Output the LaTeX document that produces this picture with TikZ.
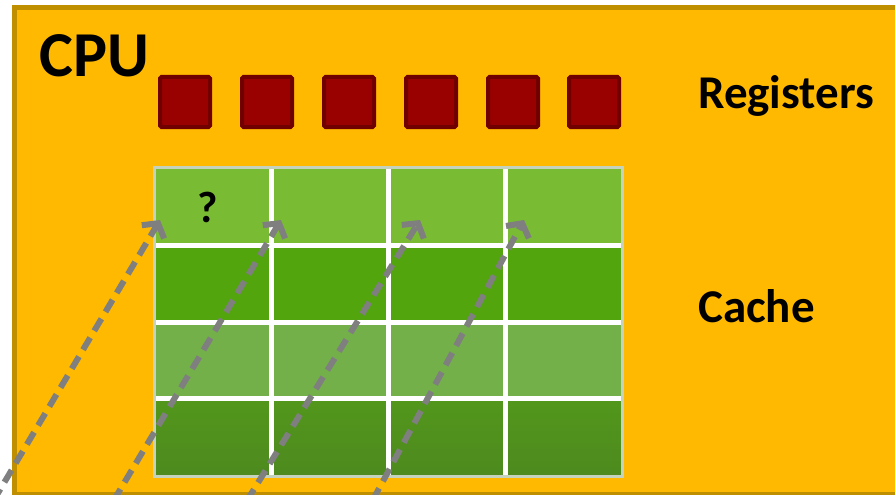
\documentclass[tikz,border=0pt]{standalone}
\usepackage{fontspec}
\setmainfont{Carlito}
\usetikzlibrary{arrows.meta}
\definecolor{cpufill}{HTML}{FFB900}
\definecolor{cpuborder}{HTML}{BF8F00}
\definecolor{regfill}{HTML}{990000}
\definecolor{regborder}{HTML}{700000}
\definecolor{rowA}{HTML}{7ABB34}
\definecolor{rowB}{HTML}{52A50C}
\definecolor{rowC}{HTML}{74B04A}
\definecolor{rowDtop}{HTML}{52971B}
\definecolor{rowDbot}{HTML}{4E8A1F}
\definecolor{gridborder}{HTML}{C5D2BE}
\definecolor{arrowgray}{HTML}{7F7F7F}
\tikzset{
  regbox/.style={draw=regborder, fill=regfill, line width=4pt, rounded corners=1.5pt,
    minimum width=50pt, minimum height=50pt, inner sep=0pt},
  label/.style={inner sep=0pt, font=\bfseries},
  fetch/.style={draw=arrowgray, line width=6pt, dash pattern=on 14pt off 8pt,
    -{Straight Barb[length=10pt,width=26pt]}}
}
\begin{document}
\begin{tikzpicture}[x=1pt,y=-1pt]
\useasboundingbox (0,0) rectangle (895,495);
\clip (0,0) rectangle (895,495);
% CPU box
\draw[draw=cpuborder, fill=cpufill, line width=5pt] (14,8) rectangle (920,494);
\node[label, anchor=base west, font=\fontsize{64}{64}\selectfont\bfseries] (cpu) at (39,77) {CPU};
% registers
\foreach \i/\x in {1/185,2/267,3/349,4/431,5/513,6/594}{
  \node[regbox] (r\i) at (\x,102) {};
}
\node[label, anchor=base west, font=\fontsize{47}{47}\selectfont\bfseries] (regs) at (698,108) {Registers};
% cache grid
\fill[rowA] (154,167) rectangle (622,245);
\fill[rowB] (154,245) rectangle (622,322);
\fill[rowC] (154,322) rectangle (622,398);
\shade[top color=rowDtop, bottom color=rowDbot] (154,398) rectangle (622,476);
\foreach \x in {271,388,505}{
  \draw[white, line width=5pt] (\x,167) -- (\x,476);
}
\foreach \y in {245,322,398}{
  \draw[white, line width=5pt] (154,\y) -- (622,\y);
}
\draw[gridborder, line width=3pt] (154,167) rectangle (622,476);
\node[label, anchor=base, font=\fontsize{44}{44}\selectfont\bfseries] (q) at (208,222) {?};
\node[label, anchor=base west, font=\fontsize{47}{47}\selectfont\bfseries] (cache) at (698,322) {Cache};
% arrows
\coordinate (s1) at (-18,520); \coordinate (t1) at (160,220);
\coordinate (s2) at (102,520); \coordinate (t2) at (281,220);
\coordinate (s3) at (235,520); \coordinate (t3) at (420,220);
\coordinate (s4) at (362,520); \coordinate (t4) at (524,220);
\draw[fetch] (s1) -- (t1);
\draw[fetch] (s2) -- (t2);
\draw[fetch] (s3) -- (t3);
\draw[fetch] (s4) -- (t4);
\end{tikzpicture}
\end{document}
